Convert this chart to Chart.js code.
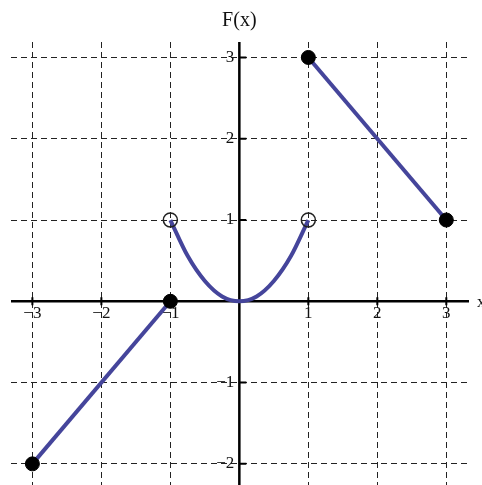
<!DOCTYPE html>
<html lang="en">
<head>
<meta charset="UTF-8">
<title>F(x)</title>
<script src="https://cdn.jsdelivr.net/npm/chart.js"></script>
<style>
    body { margin: 0; background: #fff; }
    .wrap { width: 482px; height: 485px; position: relative; }
</style>
</head>
<body>
<div class="wrap"><canvas id="fChart"></canvas></div>
<script>
// pieces of F(x)
const leftX = [-3, -1];
const leftY = [-2, 0];
const midX = [-1, -0.75, -0.5, -0.25, 0, 0.25, 0.5, 0.75, 1];
const midY = [1, 0.56, 0.25, 0.06, 0, 0.06, 0.25, 0.56, 1];
const rightX = [1, 3];
const rightY = [3, 1];
const closedX = [-3, -1, 1, 3];
const closedY = [-2, 0, 3, 1];
const openX = [-1, 1];
const openY = [1, 1];
const gridX = [-3, -2, -1, 0, 1, 2, 3];
const gridY = [-2, -1, 0, 1, 2, 3];
const xTicks = [-3, -2, -1, 1, 2, 3];
const yTicks = [-2, -1, 1, 2, 3];

const curveColor = '#45459b';
const serif = '"Liberation Serif", "DejaVu Serif", serif';

function pts(xs, ys) {
    return xs.map((v, i) => ({ x: v, y: ys[i] }));
}
function fmt(v) {
    return v < 0 ? '\u2212' + Math.abs(v) : String(v);
}

// axes through the origin, with tick marks and labels
const axesPlugin = {
    id: 'axes',
    beforeDatasetsDraw(chart) {
        const { ctx, chartArea, scales: { x, y } } = chart;
        const x0 = x.getPixelForValue(0);
        const y0 = y.getPixelForValue(0);
        ctx.save();
        ctx.strokeStyle = '#000';
        ctx.lineWidth = 2.5;
        ctx.beginPath();
        ctx.moveTo(chartArea.left, y0);
        ctx.lineTo(chartArea.right + 2, y0);
        ctx.moveTo(x0, chartArea.top);
        ctx.lineTo(x0, chartArea.bottom);
        ctx.stroke();

        ctx.lineWidth = 2;
        ctx.beginPath();
        xTicks.forEach(v => {
            const px = x.getPixelForValue(v);
            ctx.moveTo(px, y0 - 4);
            ctx.lineTo(px, y0 + 4);
        });
        yTicks.forEach(v => {
            const py = y.getPixelForValue(v);
            ctx.moveTo(x0, py);
            ctx.lineTo(x0 + 7, py);
        });
        ctx.stroke();

        ctx.fillStyle = '#111';
        ctx.font = '17px ' + serif;
        ctx.textAlign = 'center';
        ctx.textBaseline = 'alphabetic';
        xTicks.forEach(v => ctx.fillText(fmt(v), x.getPixelForValue(v), y0 + 17));
        ctx.textAlign = 'right';
        ctx.textBaseline = 'middle';
        yTicks.forEach(v => ctx.fillText(fmt(v), x0 - 5, y.getPixelForValue(v)));

        ctx.textAlign = 'left';
        ctx.fillText('x', chartArea.right + 10, y0 + 1);

        ctx.font = '20px ' + serif;
        ctx.textAlign = 'center';
        ctx.fillText('F(x)', x0, 21);
        ctx.restore();
    }
};

new Chart(document.getElementById('fChart'), {
    type: 'scatter',
    data: {
        datasets: [
            {
                data: pts(closedX, closedY),
                showLine: false,
                pointRadius: 7,
                pointBackgroundColor: '#000',
                pointBorderColor: '#000',
                order: 0
            },
            {
                data: pts(openX, openY),
                showLine: false,
                pointRadius: 7,
                pointBackgroundColor: 'rgba(255,255,255,0)',
                pointBorderColor: '#222',
                pointBorderWidth: 1.5,
                order: 0
            },
            {
                data: pts(leftX, leftY),
                showLine: true,
                pointRadius: 0,
                borderColor: curveColor,
                borderWidth: 4,
                order: 1
            },
            {
                data: pts(midX, midY),
                showLine: true,
                pointRadius: 0,
                borderColor: curveColor,
                borderWidth: 4,
                cubicInterpolationMode: 'monotone',
                order: 1
            },
            {
                data: pts(rightX, rightY),
                showLine: true,
                pointRadius: 0,
                borderColor: curveColor,
                borderWidth: 4,
                order: 1
            }
        ]
    },
    options: {
        responsive: true,
        maintainAspectRatio: false,
        animation: false,
        layout: { autoPadding: false, padding: { left: 11, right: 15, top: 42, bottom: 0 } },
        plugins: {
            legend: { display: false },
            tooltip: { enabled: false }
        },
        scales: {
            x: {
                type: 'linear',
                min: -3.31,
                max: 3.30,
                ticks: { display: false },
                grid: { color: '#222', drawTicks: false },
                border: { display: false, dash: [6, 4] },
                afterBuildTicks: s => { s.ticks = gridX.map(v => ({ value: v })); },
                afterFit: s => { s.height = 0; }
            },
            y: {
                type: 'linear',
                min: -2.26,
                max: 3.19,
                ticks: { display: false },
                grid: { color: '#222', drawTicks: false },
                border: { display: false, dash: [6, 4] },
                afterBuildTicks: s => { s.ticks = gridY.map(v => ({ value: v })); },
                afterFit: s => { s.width = 0; }
            }
        }
    },
    plugins: [axesPlugin]
});
</script>
</body>
</html>
